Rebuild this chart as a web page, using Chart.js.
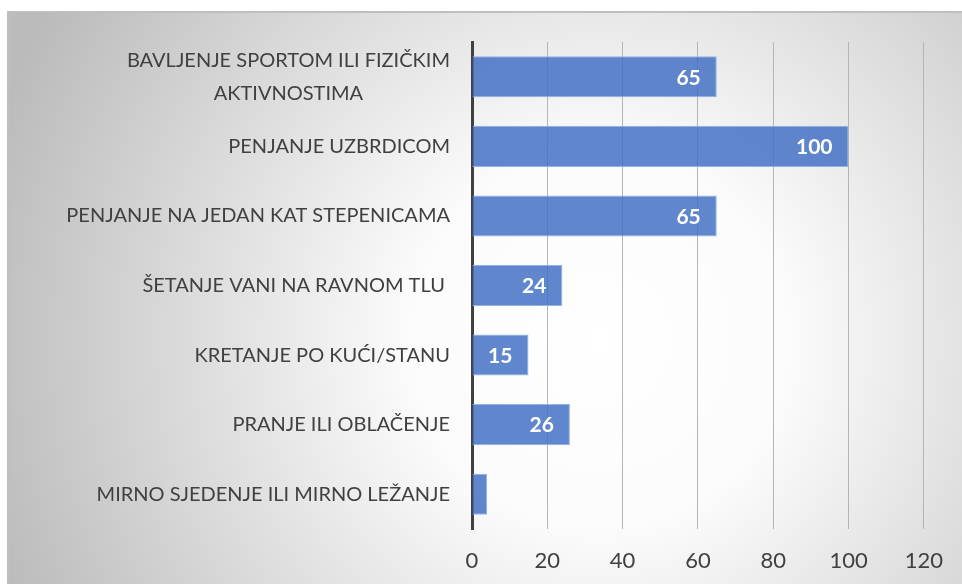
<!DOCTYPE html>
<html><head><meta charset="utf-8">
<script src="https://cdn.jsdelivr.net/npm/chart.js@4"></script>
<style>html,body{margin:0;padding:0;background:#fff;}canvas{display:block;}</style>
</head><body>
<canvas id="c" width="962" height="584"></canvas>
<script>
const categories = [
  ["BAVLJENJE SPORTOM ILI FIZIČKIM", "AKTIVNOSTIMA"],
  "PENJANJE UZBRDICOM",
  "PENJANJE NA JEDAN KAT STEPENICAMA",
  "ŠETANJE VANI NA RAVNOM TLU ",
  "KRETANJE PO KUĆI/STANU",
  "PRANJE ILI OBLAČENJE",
  "MIRNO SJEDENJE ILI MIRNO LEŽANJE"
];
const values = [65, 100, 65, 24, 15, 26, 4];
const shownLabels = ["65", "100", "65", "24", "15", "26", ""];
const xTicks = [0, 20, 40, 60, 80, 100, 120];

const FONT = "Lato";

const bgPlugin = {
  id: 'bg',
  beforeDraw(chart) {
    const ctx = chart.ctx;
    ctx.save();
    ctx.fillStyle = '#fff';
    ctx.fillRect(0, 0, 962, 584);
    const g = ctx.createRadialGradient(600, 340, 0, 600, 340, 640);
    g.addColorStop(0, '#ffffff');
    g.addColorStop(0.3, '#fbfbfb');
    g.addColorStop(1, '#bbbbbb');
    ctx.fillStyle = g;
    ctx.fillRect(8, 12, 954, 572);
    ctx.strokeStyle = '#bfbfbf';
    ctx.lineWidth = 2;
    ctx.beginPath();
    ctx.moveTo(8, 584); ctx.lineTo(8, 12); ctx.lineTo(962, 12);
    ctx.stroke();
    ctx.restore();
  }
};

const labelPlugin = {
  id: 'labels',
  afterDatasetsDraw(chart) {
    const ctx = chart.ctx;
    const yScale = chart.scales.y;
    ctx.save();
    ctx.font = '20px ' + FONT;
    ctx.fillStyle = '#404040';
    ctx.textBaseline = 'middle';
    const right = yScale.right - 22;
    categories.forEach((lab, i) => {
      const y = yScale.getPixelForTick(i);
      if (Array.isArray(lab)) {
        const w0 = ctx.measureText(lab[0]).width;
        const cx = right - w0 / 2;
        const lh = 33;
        ctx.textAlign = 'center';
        lab.forEach((line, k) => {
          ctx.fillText(line, cx, y + (k - (lab.length - 1) / 2) * lh);
        });
      } else {
        ctx.textAlign = 'right';
        ctx.fillText(lab, right, y);
      }
    });
    const meta = chart.getDatasetMeta(0);
    ctx.font = 'bold 21px ' + FONT;
    ctx.fillStyle = '#ffffff';
    ctx.textAlign = 'right';
    meta.data.forEach((bar, i) => {
      if (shownLabels[i]) ctx.fillText(shownLabels[i], bar.x - 16, bar.y + 1);
    });
    ctx.restore();
  }
};

new Chart(document.getElementById('c'), {
  type: 'bar',
  data: {
    labels: categories,
    datasets: [{
      data: values,
      backgroundColor: 'rgba(68,114,196,0.85)',
      borderColor: 'rgba(150,178,226,1)',
      borderWidth: 1,
      barPercentage: 0.59,
      categoryPercentage: 1
    }]
  },
  options: {
    indexAxis: 'y',
    responsive: false,
    animation: false,
    layout: { padding: { left: 8, top: 42, right: 36, bottom: 0 } },
    plugins: { legend: { display: false }, tooltip: { enabled: false } },
    scales: {
      x: {
        min: 0, max: 120,
        afterBuildTicks(scale) { scale.ticks = xTicks.map(v => ({ value: v })); },
        afterFit(scale) { scale.height = 55; },
        grid: { color: '#b5b5b5', lineWidth: 1, drawTicks: false },
        border: { display: false },
        ticks: { color: '#404040', font: { family: FONT, size: 22 }, padding: 19 }
      },
      y: {
        afterFit(scale) { scale.width = 464; },
        grid: { display: false, drawTicks: false },
        border: { display: true, color: '#404040', width: 3 },
        ticks: { color: 'rgba(0,0,0,0)', font: { family: FONT, size: 21 } }
      }
    }
  },
  plugins: [bgPlugin, labelPlugin]
});
</script>
</body></html>
